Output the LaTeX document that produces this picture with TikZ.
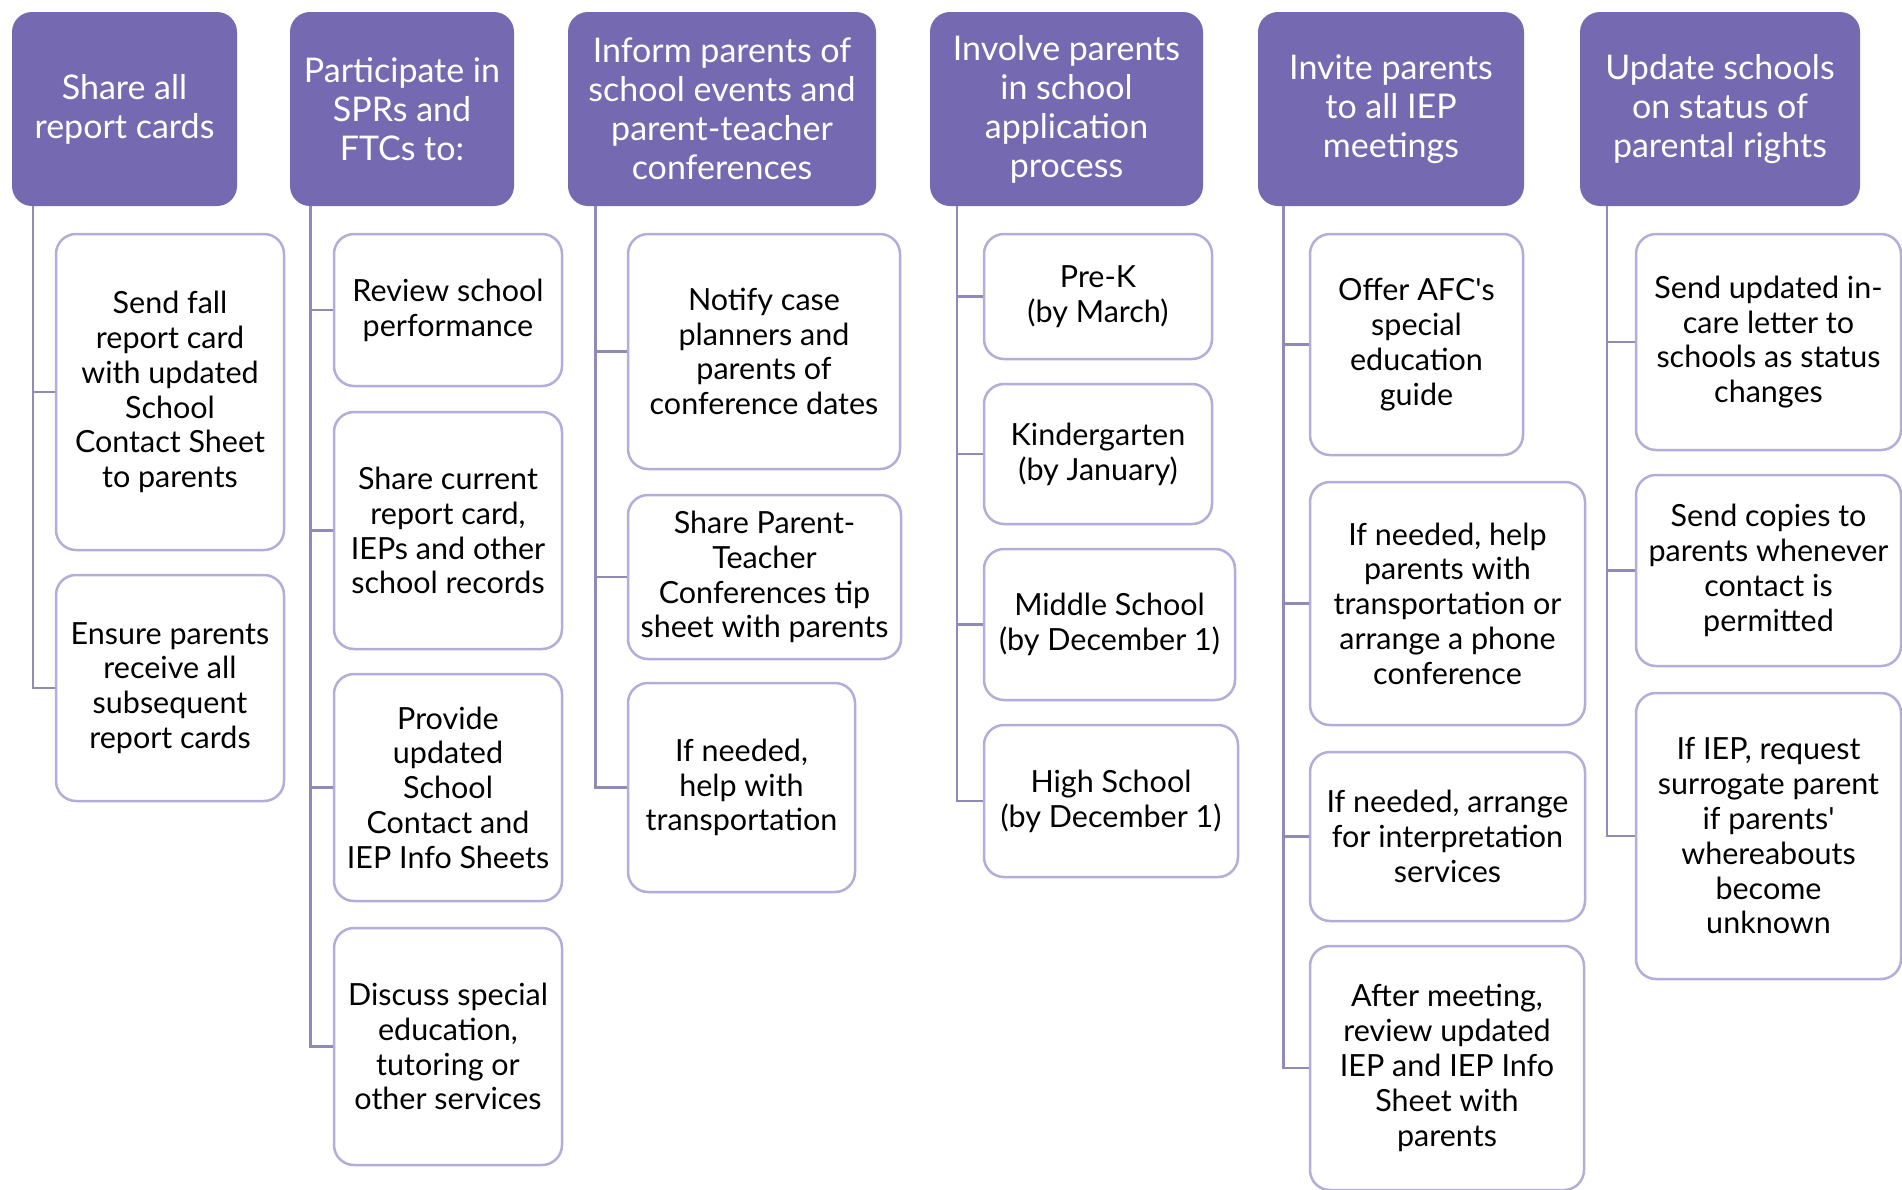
\documentclass[tikz,border=0pt]{standalone}
\usepackage{fontspec}
\setmainfont{Lato}
\usetikzlibrary{positioning}
\definecolor{headfill}{HTML}{756AB2}
\definecolor{cardline}{HTML}{B3ADDA}
\definecolor{linkline}{HTML}{908BB6}
\tikzset{
  head/.style={fill=headfill, text=white, rounded corners=20pt, align=center,
    inner sep=0pt, font=\fontsize{34}{39}\selectfont},
  card/.style={draw=cardline, line width=2.5pt, fill=white, rounded corners=20pt,
    align=center, inner sep=0pt, font=\fontsize{30.5}{34.8}\selectfont},
  box/.style 2 args={minimum width=#1pt, minimum height=#2pt},
  link/.style={draw=linkline, line width=2.5pt}
}

\begin{document}
\begin{tikzpicture}[x=1pt, y=-1pt]
\useasboundingbox (0,0) rectangle (1902,1189);

% headers
\node[head, box={225}{194}] (h1) at (124.5,109) {Share all\\report cards};
\node[head, box={224}{194}] (h2) at (402,109) {Participate in\\SPRs and\\FTCs to:};
\node[head, box={308}{194}] (h3) at (722,109) {Inform parents of\\school events and\\parent-teacher\\conferences};
\node[head, box={273}{194}] (h4) at (1066.5,109) {Involve parents\\in school\\application\\process};
\node[head, box={266}{194}] (h5) at (1391,109) {Invite parents\\to all IEP\\meetings};
\node[head, box={280}{194}] (h6) at (1720,109) {Update schools\\on status of\\parental rights};

% column 1
\node[card, box={228}{316}] (c1a) at (170,392) {Send fall\\report card\\with updated\\School\\Contact Sheet\\to parents};
\node[card, box={228}{226}] (c1b) at (170,688) {Ensure parents\\receive all\\subsequent\\report cards};

% column 2
\node[card, box={228}{152}] (c2a) at (448,310) {Review school\\performance};
\node[card, box={228}{237}] (c2b) at (448,530.5) {Share current\\report card,\\IEPs and other\\school records};
\node[card, box={228}{227}] (c2c) at (448,787.5) {Provide\\updated\\School\\Contact and\\IEP Info Sheets};
\node[card, box={228}{237}] (c2d) at (448,1046.5) {Discuss special\\education,\\tutoring or\\other services};

% column 3
\node[card, box={272}{235}] (c3a) at (764,351.5) {Notify case\\planners and\\parents of\\conference dates};
\node[card, box={273}{164}] (c3b) at (764.5,577) {Share Parent-\\Teacher\\Conferences tip\\sheet with parents};
\node[card, box={227}{209}] (c3c) at (741.5,787.5) {If needed,\\help with\\transportation};

% column 4
\node[card, box={228}{125}] (c4a) at (1098,296.5) {Pre-K\\(by March)};
\node[card, box={228}{140}] (c4b) at (1098,454) {Kindergarten\\(by January)};
\node[card, box={251}{151}] (c4c) at (1109.5,624.5) {Middle School\\(by December 1)};
\node[card, box={254}{152}] (c4d) at (1111,801) {High School\\(by December 1)};

% column 5
\node[card, box={213}{221}] (c5a) at (1416.5,344.5) {Offer AFC\textquotesingle s\\special\\education\\guide};
\node[card, box={275}{243}] (c5b) at (1447.5,603.5) {If needed, help\\parents with\\transportation or\\arrange a phone\\conference};
\node[card, box={275}{169}] (c5c) at (1447.5,836.5) {If needed, arrange\\for interpretation\\services};
\node[card, box={274}{244}] (c5d) at (1447,1068) {After meeting,\\review updated\\IEP and IEP Info\\Sheet with\\parents};

% column 6
\node[card, box={265}{216}] (c6a) at (1768.5,342) {Send updated in-\\care letter to\\schools as status\\changes};
\node[card, box={265}{191}] (c6b) at (1768.5,570.5) {Send copies to\\parents whenever\\contact is\\permitted};
\node[card, box={265}{286}] (c6c) at (1768.5,836) {If IEP, request\\surrogate parent\\if parents\textquotesingle\\whereabouts\\become\\unknown};

% tree lines
\coordinate (t1) at (33,206);
\coordinate (t2) at (310.5,206);
\coordinate (t3) at (595.5,206);
\coordinate (t4) at (957,206);
\coordinate (t5) at (1283.5,206);
\coordinate (t6) at (1607,206);
\foreach \c in {c1a,c1b} \draw[link] (t1) |- (\c.west);
\foreach \c in {c2a,c2b,c2c,c2d} \draw[link] (t2) |- (\c.west);
\foreach \c in {c3a,c3b,c3c} \draw[link] (t3) |- (\c.west);
\foreach \c in {c4a,c4b,c4c,c4d} \draw[link] (t4) |- (\c.west);
\foreach \c in {c5a,c5b,c5c,c5d} \draw[link] (t5) |- (\c.west);
\foreach \c in {c6a,c6b,c6c} \draw[link] (t6) |- (\c.west);
\end{tikzpicture}
\end{document}
